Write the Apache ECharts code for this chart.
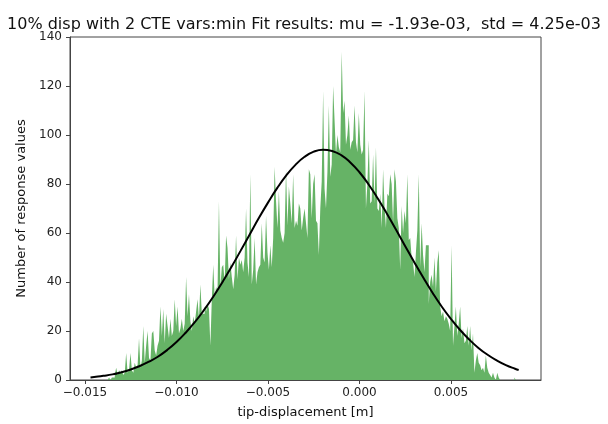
<!DOCTYPE html>
<html>
<head>
<meta charset="utf-8">
<script src="https://cdn.jsdelivr.net/npm/echarts@6/dist/echarts.min.js"></script>
<style>
html,body{margin:0;padding:0;background:#fff;}
#c{width:608px;height:424px;}
</style>
</head>
<body>
<div id="c"></div>
<script>
// Histogram: 300 bins starting at binStart with width binWidth
const binStart = -0.0147;
const binWidth = 0.000078;
const counts = [
  0,0,0,0,0,0,0,0,0,0,0,0,0,1,0,1,1,2,5,2,
  4,3,4,2,3,11,3,4,11,4,3,7,5,6,17,5,8,22,7,14,
  20,9,8,19,20,12,10,14,16,30,18,29,15,27,22,17,25,18,20,33,
  22,30,19,21,25,20,23,42,26,35,24,20,26,23,28,33,25,39,27,27,
  30,28,31,29,14,33,47,34,38,36,73,38,46,47,40,59,54,41,48,42,
  37,43,59,41,50,47,49,44,50,70,48,42,84,39,45,58,39,44,46,47,
  64,50,48,67,52,45,55,46,58,87,73,62,77,61,58,56,60,86,63,79,
  72,64,84,62,65,63,72,70,61,66,70,64,58,86,84,66,80,84,65,64,
  51,70,81,118,78,70,85,112,83,88,120,106,92,100,95,93,134,109,114,96,
  100,108,94,97,98,112,97,93,109,96,92,94,118,70,80,98,72,73,92,72,
  95,70,69,76,62,86,71,62,76,75,84,80,64,86,81,66,62,45,71,60,
  69,64,84,57,58,50,48,42,52,61,84,46,64,51,44,55,55,31,40,43,
  38,50,36,48,53,30,26,28,24,26,25,23,20,55,14,22,30,18,23,30,
  17,21,15,16,22,14,22,12,19,3,8,11,7,6,4,5,3,10,5,3,
  2,1,3,1,0,3,1,0,0,0,0,0,0,0,0,0,0,1,0,0
];
// Normal fit curve
const fitX = [-0.0147,-0.0145,-0.014,-0.0135,-0.013,-0.0125,-0.012,-0.0115,-0.011,-0.0105,-0.010,-0.0095,-0.009,-0.0085,-0.008,-0.0075,-0.007,-0.0065,-0.006,-0.0055,-0.005,-0.0045,-0.004,-0.0035,-0.003,-0.0025,-0.002,-0.0015,-0.001,-0.0005,0.0,0.0005,0.001,0.0015,0.002,0.0025,0.003,0.0035,0.004,0.0045,0.005,0.0055,0.006,0.0065,0.007,0.0075,0.008,0.0085,0.0087];
const fitY = [1.0,1.2,1.7,2.3,3.2,4.3,5.7,7.5,9.6,12.3,15.5,19.3,23.6,28.5,33.9,39.8,46.1,52.7,59.4,66.1,72.4,78.3,83.5,87.8,91.1,93.2,94.0,93.5,91.8,88.8,84.8,79.8,74.1,67.9,61.3,54.6,48.0,41.6,35.5,29.9,24.9,20.4,16.5,13.1,10.3,8.0,6.1,4.6,4.1];
const xTicks = [-0.015,-0.010,-0.005,0.000,0.005];
const yTicks = [0,20,40,60,80,100,120,140];
const titleText = '10% disp with 2 CTE vars:min Fit results: mu = -1.93e-03,  std = 4.25e-03';
const xLabel = 'tip-displacement [m]';
const yLabel = 'Number of response values';

const histData = counts.map((c,i)=>[binStart + i*binWidth, c]);
histData.push([binStart + counts.length*binWidth, counts[counts.length-1]]);
const fitData = fitX.map((x,i)=>[x, fitY[i]]);

const font = 'DejaVu Sans';
const chart = echarts.init(document.getElementById('c'), null, {renderer:'canvas'});
chart.setOption({
  animation:false,
  backgroundColor:'#fff',
  title:{text:titleText,left:'center',top:12,textStyle:{fontFamily:font,fontSize:16,fontWeight:'normal',color:'#111'}},
  grid:{left:70,right:67,top:37,bottom:39,show:true,borderColor:'#444',borderWidth:1,backgroundColor:'transparent'},
  xAxis:{type:'value',min:-0.01582,max:0.00992,
    name:xLabel,nameLocation:'middle',nameGap:26,nameTextStyle:{fontFamily:font,fontSize:13,color:'#111'},
    axisLine:{show:true,onZero:false,lineStyle:{color:'#444',width:1}},
    axisTick:{show:true,length:4,lineStyle:{color:'#444'},customValues:xTicks},
    axisLabel:{fontFamily:font,fontSize:12,color:'#222',margin:7,customValues:xTicks,
      formatter:v=>(v<0?'\u2212':'')+Math.abs(v).toFixed(3)},
    splitLine:{show:false}},
  yAxis:{type:'value',min:0,max:140,interval:20,
    name:yLabel,nameLocation:'middle',nameGap:41,nameTextStyle:{fontFamily:font,fontSize:13,color:'#111'},
    axisLine:{show:true,onZero:false,lineStyle:{color:'#444',width:1}},
    axisTick:{show:true,length:4,lineStyle:{color:'#444'}},
    axisLabel:{fontFamily:font,fontSize:12,color:'#222',margin:8},
    splitLine:{show:false}},
  series:[
    {type:'line',step:'end',data:histData,symbol:'none',
      lineStyle:{width:0,opacity:0},areaStyle:{color:'#66b366',opacity:1},z:2},
    {type:'line',data:fitData,smooth:true,symbol:'none',
      lineStyle:{color:'#000',width:2},z:3}
  ]
});
</script>
</body>
</html>
